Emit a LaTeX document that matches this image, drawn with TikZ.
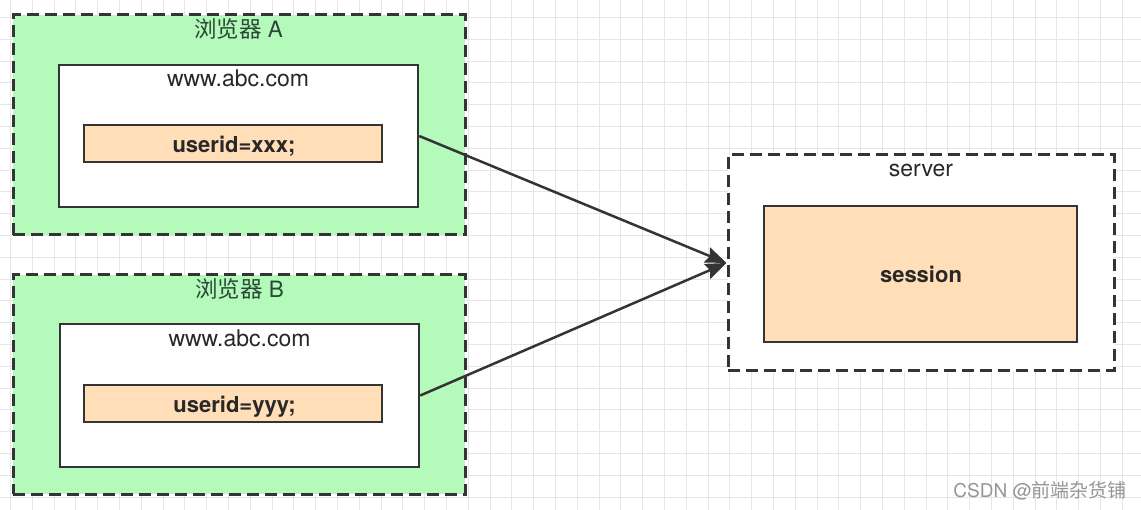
\documentclass[tikz,border=0pt]{standalone}
\usepackage{fontspec}
\setmainfont{TeX Gyre Heros}
\newfontfamily\cjk{Noto Sans CJK SC}
\usetikzlibrary{arrows.meta}
\definecolor{gridc}{RGB}{230,230,230}
\definecolor{greenf}{RGB}{179,250,187}
\definecolor{peach}{RGB}{255,222,184}
\definecolor{linec}{RGB}{52,52,52}
\definecolor{textc}{RGB}{40,40,40}
\definecolor{titlec}{RGB}{44,72,54}
\definecolor{markc}{RGB}{150,150,150}
\begin{document}
\begin{tikzpicture}[x=1pt,y=-1pt,
  outerbox/.style={draw=linec, line width=3pt, dash pattern=on 12pt off 6pt, rectangle, inner sep=0pt},
  innerbox/.style={draw=linec, line width=2.5pt, fill=white, rectangle, inner sep=0pt},
  peachbox/.style={draw=linec, line width=2.5pt, fill=peach, rectangle, inner sep=0pt},
  txt/.style={inner sep=0pt, anchor=base, text=textc, font=\fontsize{23}{27}\selectfont},
  btxt/.style={txt, font=\fontsize{22}{26}\selectfont\bfseries},
  ttl/.style={txt, text=titlec, font=\fontsize{22.5}{27}\selectfont},
  arrowline/.style={draw=linec, line width=2.5pt, -{Stealth[length=21pt, width=16pt, inset=3pt]}}
]
\useasboundingbox (0,0) rectangle (1141,510);
\fill[white] (0,0) rectangle (1141,510);
% grid
\foreach \i in {0,...,52} \draw[gridc, line width=1pt] (10.5+\i*21.8,0) -- (10.5+\i*21.8,510);
\foreach \j in {0,...,23} \draw[gridc, line width=1pt] (0,17.5+\j*21.8) -- (1141,17.5+\j*21.8);

% browser A
\node[outerbox, fill=greenf, minimum width=452pt, minimum height=220pt] (outA) at (239,125) {};
\node[ttl] (titleA) at (238.5,38) {{\cjk 浏览器} A};
\node[innerbox, minimum width=359pt, minimum height=142pt] (inA) at (238.5,136) {};
\node[txt] (wwwA) at (238,87) {www.abc.com};
\node[peachbox, minimum width=298pt, minimum height=37pt] (ckA) at (233,143.5) {};
\node[btxt] (uidA) at (234,153) {userid=xxx;};

% browser B
\node[outerbox, fill=greenf, minimum width=452pt, minimum height=219pt] (outB) at (239,384.5) {};
\node[ttl] (titleB) at (239.5,298) {{\cjk 浏览器} B};
\node[innerbox, minimum width=359pt, minimum height=143pt] (inB) at (239.5,395.5) {};
\node[txt] (wwwB) at (239.5,347) {www.abc.com};
\node[peachbox, minimum width=298pt, minimum height=37pt] (ckB) at (233,403.5) {};
\node[btxt] (uidB) at (234.5,413) {userid=yyy;};

% server
\node[outerbox, fill=white, minimum width=386pt, minimum height=216pt] (server) at (921,263) {};
\node[txt] (serverT) at (921,177) {server};
\node[peachbox, minimum width=313pt, minimum height=136pt] (session) at (920.5,274) {};
\node[btxt] (sessionT) at (921,283) {session};

% arrows
\draw[arrowline] (inA.east) -- (server.west);
\draw[arrowline] (inB.east) -- (server.west);

% watermark
\node[inner sep=0pt, anchor=base east, text=markc, font=\fontsize{19}{23}\selectfont] (mark) at (1127,497) {CSDN @{\cjk 前端杂货铺}};
\end{tikzpicture}
\end{document}
